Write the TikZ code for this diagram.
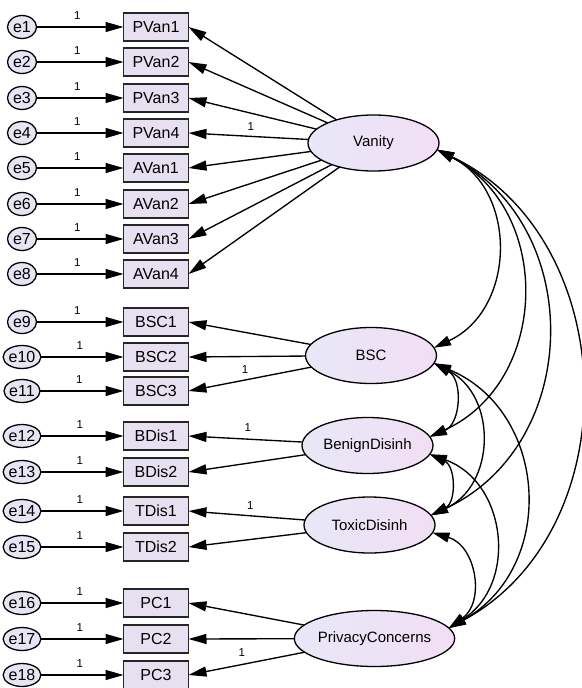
\documentclass[tikz,border=0pt]{standalone}
\usepackage{fontspec}
\setmainfont{Liberation Sans}
\usetikzlibrary{arrows.meta,shapes.geometric}
\definecolor{boxfill}{RGB}{230,224,240}
\definecolor{latL}{RGB}{232,232,247}
\definecolor{latR}{RGB}{241,222,245}
\definecolor{errfill}{RGB}{231,228,243}
\begin{document}
\begin{tikzpicture}[x=1pt,y=1pt,
 obs/.style={draw=black!85, line width=1.3pt, fill=boxfill, minimum width=65pt, minimum height=28pt, inner sep=0pt, outer sep=0pt, font=\fontsize{16}{18}\selectfont},
 err/.style={ellipse, draw, line width=1.3pt, fill=errfill, minimum width=29pt, minimum height=23pt, inner sep=0pt, outer sep=0pt, font=\fontsize{16}{18}\selectfont},
 lat/.style={ellipse, draw, line width=1.3pt, left color=latL, right color=latR, minimum width=131pt, minimum height=56pt, inner sep=0pt, outer sep=0pt, font=\fontsize{15}{17}\selectfont},
 arr/.style={-{Triangle[length=18pt,width=10pt]}, line width=1.35pt},
 cov/.style={{Triangle[length=17pt,width=10pt]}-{Triangle[length=17pt,width=10pt]}, line width=1.35pt},
 lbl/.style={font=\fontsize{11.5}{12}\selectfont, inner sep=0pt}
]
\useasboundingbox (0,0) rectangle (581,-688);
\fill[white] (0,0) rectangle (581,-688);

\foreach \i/\t/\y in {1/PVan1/27, 2/PVan2/62, 3/PVan3/98, 4/PVan4/133, 5/AVan1/168, 6/AVan2/204, 7/AVan3/239, 8/AVan4/274, 9/BSC1/322, 10/BSC2/357, 11/BSC3/391, 12/BDis1/436, 13/BDis2/472, 14/TDis1/511, 15/TDis2/547, 16/PC1/603, 17/PC2/639, 18/PC3/675}{
  \node[err] (e\i) at (22,-\y) {e\i};
  \node[obs] (o\i) at (156,-\y) {\t};
  \draw[arr] (e\i) -- node[lbl, above=7pt, pos=0.47] {1} (o\i);
}

\node[lat] (V) at (373.5,-143) {Vanity};
\node[lat] (B) at (371,-355.5) {BSC};
\node[lat] (BD) at (367.5,-445.5) {BenignDisinh};
\node[lat] (TD) at (369.5,-525) {ToxicDisinh};
\node[lat] (PC) at (374.5,-638.5) {PrivacyConcerns};

% loadings
\foreach \i in {1,2,3,5,6,7,8} \draw[arr] (V) -- (o\i.east);
\draw[arr] (V) -- node[lbl, above=5pt, pos=0.48] {1} (o4.east);
\draw[arr] (B) -- (o9.east);
\draw[arr] (B) -- (o10.east);
\draw[arr] (B) -- node[lbl, above=6pt, pos=0.54] {1} (o11.east);
\draw[arr] (BD) -- node[lbl, above=7pt, pos=0.48] {1} (o12.east);
\draw[arr] (BD) -- (o13.east);
\draw[arr] (TD) -- node[lbl, above=6pt, pos=0.47] {1} (o14.east);
\draw[arr] (TD) -- (o15.east);
\draw[arr] (PC) -- (o16.east);
\draw[arr] (PC) -- (o17.east);
\draw[arr] (PC) -- node[lbl, above=7pt, pos=0.54] {1} (o18.east);

% covariances
\draw[cov] (V.-6) to[bend left=64, looseness=1.17] (B.7);
\draw[cov] (V.-6) to[bend left=64, looseness=1.17] (BD.8);
\draw[cov] (V.-6) to[bend left=64, looseness=1.17] (TD.9);
\draw[cov] (V.-6) to[bend left=63, looseness=1.1] (PC.8);
\draw[cov] (B.-7) to[bend left=64, looseness=1.17] (BD.8);
\draw[cov] (B.-7) to[bend left=64, looseness=1.2] (TD.9);
\draw[cov] (B.-7) to[bend left=64, looseness=1.2] (PC.8);
\draw[cov] (BD.-8) to[bend left=64, looseness=1.2] (TD.9);
\draw[cov] (BD.-8) to[bend left=64, looseness=1.2] (PC.8);
\draw[cov] (TD.-7) to[bend left=64, looseness=1.2] (PC.8);
\end{tikzpicture}
\end{document}
